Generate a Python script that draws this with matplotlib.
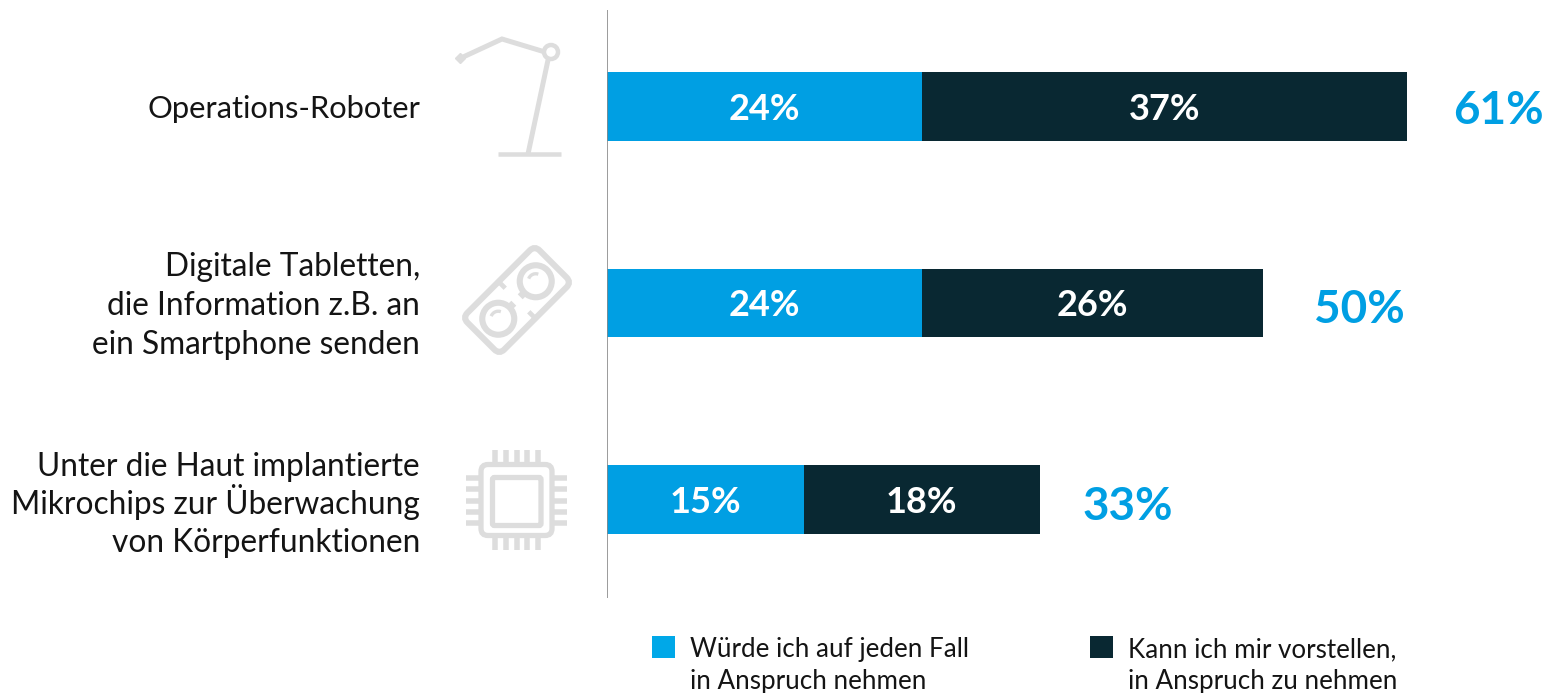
import matplotlib
matplotlib.use('Agg')
import matplotlib.pyplot as plt
from matplotlib.patches import Circle, FancyBboxPatch, Rectangle, Arc
from matplotlib.transforms import Affine2D

# values
categories = ['Operations-Roboter',
              'Digitale Tabletten,\ndie Information z.B. an\nein Smartphone senden',
              'Unter die Haut implantierte\nMikrochips zur Überwachung\nvon Körperfunktionen']
sicher = [24, 24, 15]
vorstellbar = [37, 26, 18]
gesamt = [61, 50, 33]
legend_labels = ['Würde ich auf jeden Fall\nin Anspruch nehmen',
                 'Kann ich mir vorstellen,\nin Anspruch zu nehmen']

BLUE = '#009FE3'
DARK = '#092832'
ICON = '#DDDDDD'
TEXT = '#141414'
W, H = 1547, 693

plt.rcParams['font.family'] = ['Lato', 'DejaVu Sans']

fig = plt.figure(figsize=(W / 100, H / 100), dpi=100)

# bar axes, 0% sits on the vertical line
ax = fig.add_axes([607 / W, 1 - 598 / H, (1407 - 607) / W, (598 - 10) / H])
ax.set_xlim(0, 61)
ax.set_ylim(-0.49, 2.5)
ax.invert_yaxis()
ypos = list(range(len(categories)))
ax.barh(ypos, sicher, height=0.349, color=BLUE)
ax.barh(ypos, vorstellbar, left=sicher, height=0.349, color=DARK)
ax.axis('off')
ax.axvline(0, color='#8A8A8A', lw=1.2)

total_gap = [33, 37, 31]
total_drop = [-3, -5, -5]
for i in ypos:
    ax.annotate(f'{sicher[i]}%', (sicher[i] / 2, i), xytext=(0, -2), textcoords='offset points',
                color='white', fontsize=26, fontweight='bold', ha='center', va='center')
    ax.annotate(f'{vorstellbar[i]}%', (sicher[i] + vorstellbar[i] / 2, i), xytext=(0, -2),
                textcoords='offset points', color='white', fontsize=26, fontweight='bold',
                ha='center', va='center')
    ax.annotate(f'{gesamt[i]}%', (gesamt[i], i), xytext=(total_gap[i], total_drop[i]),
                textcoords='offset points', color=BLUE, fontsize=33, fontweight='bold',
                va='center', annotation_clip=False)

# overlay in pixels for category text, icons and legend
ov = fig.add_axes([0, 0, 1, 1], zorder=-1)
ov.set_xlim(0, W)
ov.set_ylim(H, 0)
ov.axis('off')


def text_lines(x, y_mid, txt, size, step, ha):
    # lines one by one, multiline text spaces lines unevenly around the Ü
    parts = txt.split('\n')
    for k, part in enumerate(parts):
        ov.text(x, y_mid + (k - (len(parts) - 1) / 2) * step, part, ha=ha, va='baseline',
                fontsize=size, color=TEXT)


label_y = [118, 315, 514]
label_size = [22.2, 22.8, 22.8]
for txt, y, size in zip(categories, label_y, label_size):
    text_lines(420, y, txt, size, 38.5, 'right')


# lamp icon
def line(xs, ys, w, cap='butt'):
    ov.plot(xs, ys, color=ICON, lw=w * 0.72, solid_capstyle=cap, solid_joinstyle='miter')


line([461, 502, 545], [58, 39, 52], 5)
ov.add_patch(Circle((551, 52), 7, fc='white', ec=ICON, lw=3.2))
line([548, 528], [60, 154], 5)
line([498, 561], [154, 154], 4.5)
ov.plot([460], [58], marker='D', ms=5.5, color=ICON)

# pill icon, drawn flat around its centre and turned by 45 degrees
cx, cy = 517, 300
rot = Affine2D().rotate_deg_around(cx, cy, -45) + ov.transData
ov.add_patch(FancyBboxPatch((cx - 51, cy - 26), 102, 52, boxstyle='round,pad=0,rounding_size=7',
                            fc='white', ec=ICON, lw=4.4, transform=rot))
for dx in (-26.5, 26.5):
    ov.add_patch(Circle((cx + dx, cy), 16, fc='none', ec=ICON, lw=4.4, transform=rot))
    ov.add_patch(Arc((cx + dx, cy), 15, 15, theta1=200, theta2=290, ec=ICON, lw=2.4,
                     transform=Affine2D().rotate_deg_around(cx + dx, cy, 45) + rot))
for dx in (-8, 8):
    ov.add_patch(Rectangle((cx + dx - 3.5, cy - 3.5), 7, 7, fc=ICON, ec='none', transform=rot))
for sy in (-1, 1):
    ov.plot([cx, cx], [cy + sy * 26, cy + sy * 19], color=ICON, lw=3.4, transform=rot)

# chip icon
ov.add_patch(FancyBboxPatch((481, 464.5), 71, 71, boxstyle='round,pad=0,rounding_size=7',
                            fc='none', ec=ICON, lw=3.8))
ov.add_patch(FancyBboxPatch((492.5, 477.5), 48.5, 48, boxstyle='round,pad=0,rounding_size=2',
                            fc='none', ec=ICON, lw=3.8))
for px in (495, 506, 517, 527, 538):
    line([px, px], [450, 462], 5.5)
    line([px, px], [538, 550], 5.5)
for py in (478, 489, 501, 512, 523):
    line([466, 479], [py, py], 5.5)
    line([554, 567], [py, py], 5.5)

# legend
for x0, col, lab in zip((652, 1090), ('#00A8E8', DARK), legend_labels):
    ov.add_patch(Rectangle((x0, 636), 23, 22, fc=col, ec='none'))
    text_lines(x0 + 38, 673, lab, 18.7, 32, 'left')

fig.savefig('out.png', dpi=100)
